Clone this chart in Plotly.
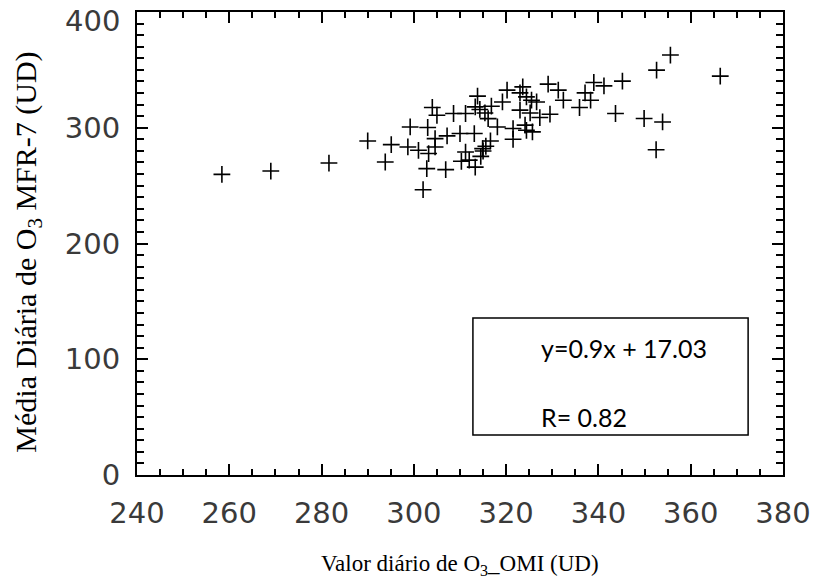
import plotly.graph_objects as go

# Data (daily O3: OMI vs MFR-7, DU)
omi = [258.4, 269.0, 281.6, 290.0, 293.8, 295.1, 298.7, 299.2, 301.0, 302.0,
       302.8, 303.0, 303.2, 304.0, 304.6, 304.6, 305.0, 306.9, 307.2, 308.6,
       310.0, 310.3, 311.2, 311.2, 312.0, 313.1, 313.3, 313.3, 313.8, 314.3,
       314.5, 314.9, 315.0, 315.4, 315.6, 316.1, 316.6, 316.8, 318.1, 319.2,
       320.2, 321.5, 321.5, 323.0, 323.0, 323.6, 324.1, 324.4, 324.4, 325.2,
       325.5, 325.7, 326.6, 327.3, 329.1, 329.5, 331.3, 332.4, 335.9, 337.1,
       338.3, 339.0, 341.2, 343.7, 345.2, 349.9, 352.5, 352.6, 353.9, 355.6,
       366.4]
mfr = [259.7, 262.6, 269.5, 288.6, 270.4, 285.4, 283.4, 300.7, 280.5, 246.5,
       264.7, 300.2, 277.7, 317.5, 283.4, 290.6, 310.8, 263.8, 293.0, 312.3,
       295.0, 271.0, 279.0, 312.3, 272.0, 295.0, 266.0, 318.0, 327.3, 315.8,
       275.3, 282.0, 279.9, 312.8, 284.0, 307.9, 288.6, 318.6, 300.7, 322.3,
       332.5, 290.0, 299.3, 315.2, 330.1, 335.3, 302.3, 297.8, 326.7, 312.8,
       323.8, 296.4, 322.3, 308.8, 337.7, 311.7, 332.5, 323.8, 317.5, 330.1,
       323.8, 339.1, 336.2, 312.3, 340.3, 308.0, 281.0, 349.8, 305.0, 362.8,
       344.6]

x_range = [240, 380]
y_range = [0, 400]
x_ticks = [240, 260, 280, 300, 320, 340, 360, 380]
y_ticks = [0, 100, 200, 300, 400]

eq_text = "y=0.9x + 17.03"
r_text = "R= 0.82"
x_title = "Valor diário de O<sub>3</sub>_OMI (UD)"
y_title = "Média Diária de O<sub>3</sub> MFR-7 (UD)"

tick_font = dict(family="DejaVu Sans", size=29, color="#3a3a3a")

fig = go.Figure()
fig.add_trace(go.Scatter(
    x=omi, y=mfr, mode="markers",
    marker=dict(symbol="cross-thin", size=12, color="black",
                line=dict(width=1.6, color="black")),
    showlegend=False, hoverinfo="x+y",
))

axis_common = dict(
    showline=True, linewidth=2, linecolor="black", mirror="allticks",
    ticks="inside", ticklen=11, tickwidth=1.5, tickcolor="black",
    showgrid=False, zeroline=False, tickfont=tick_font, automargin=False,
    ticklabeloverflow="allow",
)

# top y label is drawn just below the frame (as in the reference), so it is
# left blank on the axis and placed as a text label at the top edge
y_ticktext = [str(v) for v in y_ticks[:-1]] + [""]

fig.update_xaxes(range=x_range, tickvals=x_ticks, ticklabelstandoff=11,
                 minor=dict(dtick=5, ticks="inside", ticklen=6, tickwidth=1.5,
                            tickcolor="black", showgrid=False),
                 **axis_common)
fig.update_yaxes(range=y_range, tickvals=y_ticks, ticktext=y_ticktext,
                 ticklabelstandoff=9,
                 minor=dict(dtick=10, ticks="inside", ticklen=7, tickwidth=1.5,
                            tickcolor="black", showgrid=False),
                 **axis_common)

fig.add_annotation(xref="paper", yref="paper", x=-0.0232, y=1.0,
                   xanchor="right", yanchor="top", showarrow=False,
                   text=str(y_ticks[-1]), font=tick_font, yshift=10)

# Equation box
fig.add_shape(type="rect", xref="paper", yref="paper",
              x0=0.520, x1=0.946, y0=0.0864, y1=0.339,
              line=dict(color="black", width=1.5), fillcolor="white")
fig.add_annotation(xref="paper", yref="paper", x=0.622, y=0.274,
                   xanchor="left", yanchor="middle", showarrow=False,
                   text=eq_text, font=dict(family="Lato", size=25, color="black"))
fig.add_annotation(xref="paper", yref="paper", x=0.622, y=0.125,
                   xanchor="left", yanchor="middle", showarrow=False,
                   text=r_text, font=dict(family="Lato", size=25, color="black"))

# Axis titles
fig.add_annotation(xref="paper", yref="paper", x=0.5, y=-0.194,
                   xanchor="center", yanchor="middle", showarrow=False,
                   text=x_title,
                   font=dict(family="Liberation Serif", size=23, color="black"))
fig.add_annotation(xref="paper", yref="paper", x=-0.169, y=0.482,
                   xanchor="center", yanchor="middle", showarrow=False,
                   textangle=-90, text=y_title,
                   font=dict(family="Liberation Serif", size=30, color="black"))

fig.update_layout(
    width=813, height=585,
    margin=dict(l=137, r=30, t=12, b=110, autoexpand=False),
    paper_bgcolor="white", plot_bgcolor="white",
)

fig.write_html("out.html", config={"displayModeBar": False},
               post_script="document.body.style.margin='0';")
